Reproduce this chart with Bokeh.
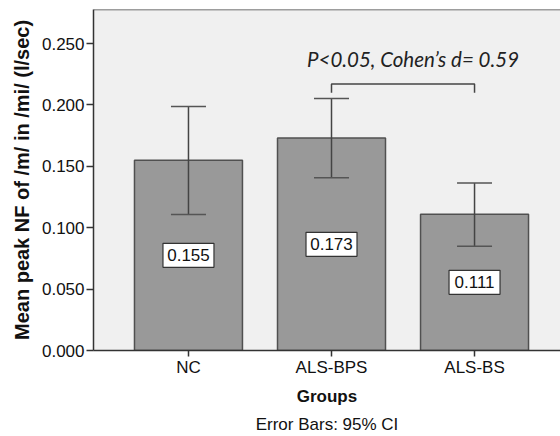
from bokeh.plotting import figure
from bokeh.models import (Range1d, FixedTicker, NumeralTickFormatter, Whisker, TeeHead,
                          ColumnDataSource, Span, LinearAxis)
from bokeh.core.properties import value
from bokeh.embed import file_html
from bokeh.resources import INLINE

# ---- data ----
groups = ["NC", "ALS-BPS", "ALS-BS"]
means = [0.155, 0.173, 0.111]
ci_upper = [0.1987, 0.2052, 0.1365]
ci_lower = [0.1107, 0.1406, 0.0848]
mean_labels = ["0.155", "0.173", "0.111"]
y_ticks = [0.0, 0.05, 0.10, 0.15, 0.20, 0.25]
bracket_groups = [1, 2]
annotation = "P<0.05, Cohen\u2019s d= 0.59"
y_title = "Mean peak NF of /m/ in /mi/ (l/sec)"
x_title = "Groups"
note = "Error Bars: 95% CI"

xs = list(range(len(groups)))
src = ColumnDataSource(dict(x=xs, top=means, upper=ci_upper, lower=ci_lower,
                            lab=mean_labels, ly=[m / 2 for m in means]))

FONT = "Liberation Sans"
Y_END = 0.2777

p = figure(width=560, height=436, output_backend="svg", toolbar_location=None,
           x_range=Range1d(-0.664, 2.601), y_range=Range1d(0, Y_END),
           min_border_left=93, min_border_right=0, min_border_top=9, min_border_bottom=83)
p.background_fill_color = "#f0f0f0"
p.border_fill_color = "white"
p.outline_line_color = None
p.grid.visible = False

p.vbar(x="x", top="top", width=0.755, source=src, fill_color="#999999",
       line_color="#505050", line_width=1.5)

p.add_layout(Whisker(source=src, base="x", upper="upper", lower="lower", level="annotation",
                     line_color="#444444", line_width=1.5,
                     upper_head=TeeHead(size=35, line_color="#555555", line_width=1.5),
                     lower_head=TeeHead(size=35, line_color="#555555", line_width=1.5)))

p.rect(x="x", y="ly", width=51, height=24, width_units="screen", height_units="screen",
       source=src, fill_color="white", line_color="#333333", line_width=1.2)
p.text(x="x", y="ly", text="lab", source=src, text_align="center", text_baseline="middle",
       text_font=value(FONT), text_font_size="17px", text_color="#111111")

# bracket
by = 0.217
drop = 0.007
b0, b1 = bracket_groups
p.line(x=[b0, b0, b1, b1], y=[by - drop, by, by, by - drop], line_color="#444444", line_width=1.5)
p.text(x=[(b0 + b1) / 2], y=[by + 0.0202], text=[annotation], text_align="center",
       text_baseline="middle", x_offset=10, text_font=value("Lato"),
       text_font_style="italic", text_font_size="20.5px", text_color="#222222")

# top border
p.add_layout(Span(location=Y_END, dimension="width", line_color="#444444", line_width=1.5))

# axes
p.xaxis.ticker = FixedTicker(ticks=xs)
p.xaxis.major_label_overrides = {i: g for i, g in enumerate(groups)}
p.yaxis.ticker = FixedTicker(ticks=y_ticks)
p.yaxis.formatter = NumeralTickFormatter(format="0.000")
for ax in (p.xaxis[0], p.yaxis[0]):
    ax.axis_line_color = "#333333"
    ax.axis_line_width = 1.5
    ax.major_tick_line_color = "#333333"
    ax.major_tick_line_width = 1.5
    ax.major_tick_in = 0
    ax.minor_tick_line_color = None
    ax.major_label_text_font = FONT
    ax.major_label_text_font_size = "17px"
    ax.major_label_text_color = "#111111"
    ax.axis_label_text_font = FONT
    ax.axis_label_text_font_style = "bold"
    ax.axis_label_text_color = "#111111"
p.yaxis.major_tick_out = 7
p.xaxis.major_tick_out = 6
p.yaxis.major_label_standoff = 2
p.xaxis.major_label_standoff = 1
p.yaxis.axis_label = y_title
p.yaxis.axis_label_text_font_size = "20px"
p.yaxis.axis_label_standoff = 6
p.xaxis.axis_label = x_title
p.xaxis.axis_label_text_font_size = "17px"
p.xaxis.axis_label_standoff = 7

# footnote as an extra, tick-less axis below
note_axis = LinearAxis(ticker=FixedTicker(ticks=[]), axis_line_color=None,
                       major_tick_line_color=None, minor_tick_line_color=None,
                       major_label_text_font_size="0px", major_tick_out=0,
                       major_label_standoff=0,
                       axis_label=note, axis_label_standoff=6, axis_label_text_font=FONT,
                       axis_label_text_font_size="17px", axis_label_text_font_style="normal",
                       axis_label_text_color="#111111")
p.add_layout(note_axis, "below")

open("out.html", "w").write(file_html(p, INLINE))
